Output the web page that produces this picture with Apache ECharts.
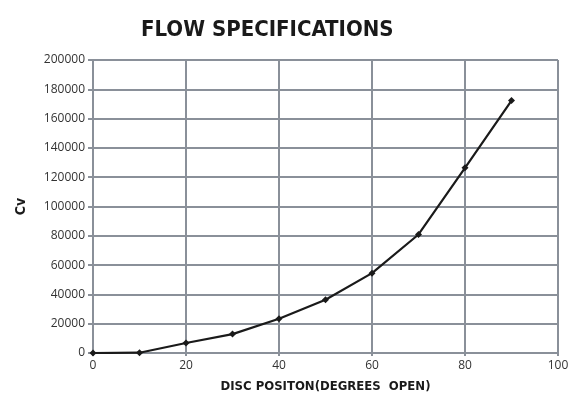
<!DOCTYPE html>
<html>
<head>
<meta charset="utf-8">
<script src="https://cdn.jsdelivr.net/npm/echarts@6/dist/echarts.min.js"></script>
<style>
  html, body { margin: 0; padding: 0; background: #fff; }
  #main { width: 572px; height: 403px; }
</style>
</head>
<body>
<div id="main"></div>
<script>
// disc position (degrees open) and flow coefficient Cv
var positions = [0, 10, 20, 30, 40, 50, 60, 70, 80, 90];
var cvValues = [0, 200, 6800, 12900, 23400, 36400, 54500, 80900, 126400, 172300];

var points = [];
for (var i = 0; i < positions.length; i++) {
    points.push([positions[i], cvValues[i]]);
}

var gridColor = '#8a9099';
var condensed = '"DejaVu Sans Condensed", "Liberation Sans Narrow", sans-serif';

var myChart = echarts.init(document.getElementById('main'));
var option = {
    animation: false,
    title: {
        text: 'FLOW SPECIFICATIONS',
        left: 136,
        top: 14,
        textStyle: {
            fontFamily: condensed,
            fontWeight: 'bold',
            fontSize: 22,
            color: '#1a1a1a'
        }
    },
    grid: {
        left: 93,
        right: 14,
        top: 60,
        bottom: 50
    },
    xAxis: {
        type: 'value',
        min: 0,
        max: 100,
        interval: 20,
        name: 'DISC POSITON(DEGREES  OPEN)',
        nameLocation: 'middle',
        nameGap: 27,
        nameTextStyle: {
            fontFamily: condensed,
            fontWeight: 'bold',
            fontSize: 13,
            color: '#1a1a1a'
        },
        axisLine: { show: false },
        axisTick: { show: true, length: 3, lineStyle: { color: gridColor, width: 2 } },
        axisLabel: { color: '#333', fontSize: 12, fontFamily: 'Open Sans', margin: 7 },
        splitLine: { lineStyle: { color: gridColor, width: 2 } }
    },
    yAxis: {
        type: 'value',
        min: 0,
        max: 200000,
        interval: 20000,
        name: 'Cv',
        nameLocation: 'middle',
        nameGap: 65,
        nameTextStyle: {
            fontFamily: condensed,
            fontWeight: 'bold',
            fontSize: 14,
            color: '#1a1a1a'
        },
        axisLine: { show: false },
        axisTick: { show: true, length: 5, lineStyle: { color: gridColor, width: 2 } },
        axisLabel: {
            color: '#333',
            fontSize: 12,
            fontFamily: 'Open Sans',
            margin: 8,
            formatter: function (v) { return String(v); }
        },
        splitLine: { lineStyle: { color: gridColor, width: 2 } }
    },
    series: [{
        type: 'line',
        data: points,
        symbol: 'diamond',
        symbolSize: 7,
        lineStyle: { color: '#1a1a1a', width: 2.2 },
        itemStyle: { color: '#1a1a1a' }
    }]
};
myChart.setOption(option);
</script>
</body>
</html>
